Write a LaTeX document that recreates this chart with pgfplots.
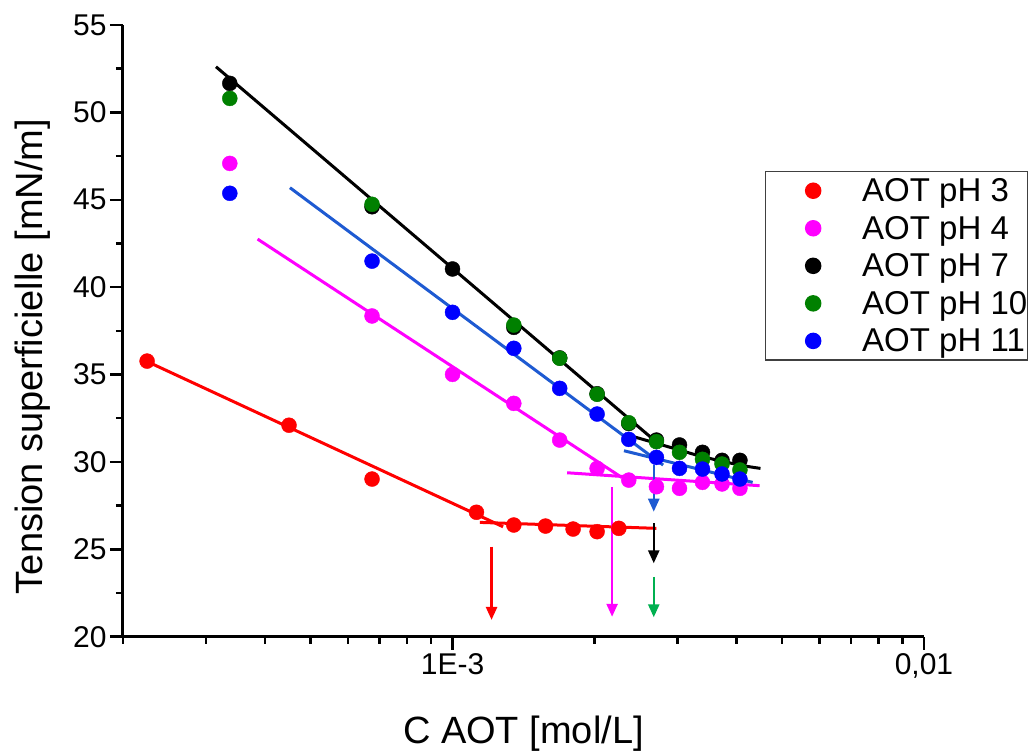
\documentclass[border=0pt]{standalone}
\usepackage{fontspec}
\setmainfont{Liberation Sans}
\usepackage{pgfplots}
\pgfplotsset{compat=1.18}
\usetikzlibrary{arrows.meta}
\definecolor{cred}{RGB}{255,0,0}
\definecolor{cmag}{RGB}{255,0,255}
\definecolor{cgreen}{RGB}{0,128,0}
\definecolor{cblue}{RGB}{0,0,255}
\definecolor{cblueline}{RGB}{30,90,210}
\definecolor{cgreenarrow}{RGB}{0,176,80}
\begin{document}
\begin{tikzpicture}
\begin{axis}[
  name=ax,
  scale only axis,
  width=801pt, height=611.7pt,
  xmode=log,
  xmin=2e-4, xmax=1e-2,
  ymin=20, ymax=55,
  axis x line*=bottom, axis y line*=left,
  axis line style={-, line width=3pt},
  every outer x axis line/.append style={line width=3pt},
  every outer y axis line/.append style={line width=3pt},
  xtick pos=left, ytick pos=left,
  tick align=outside,
  major tick length=13pt, minor tick length=7pt,
  every tick/.style={black, line width=2.5pt},
  xtick={1e-3,1e-2}, xticklabels={1E-3,{0,01}},
  minor xtick={2e-4,3e-4,4e-4,5e-4,6e-4,7e-4,8e-4,9e-4,2e-3,3e-3,4e-3,5e-3,6e-3,7e-3,8e-3,9e-3},
  ytick={20,25,30,35,40,45,50,55},
  yticklabels={20,25,30,35,40,45,50,55},
  minor ytick={22.5,27.5,32.5,37.5,42.5,47.5,52.5},
  ticklabel style={font=\fontsize{30}{30}\selectfont},
  xlabel={C AOT [mol/L]},
  ylabel={Tension superficielle [mN/m]},
  every axis x label/.style={at={(axis description cs:0.5,-0.1743)}, anchor=base, font=\fontsize{38}{38}\selectfont},
  every axis y label/.style={at={(axis description cs:-0.1002,0.458)}, anchor=base, rotate=90, font=\fontsize{38}{38}\selectfont},
  legend style={at={(axis description cs:0.8015,0.7618)}, anchor=north west,
    draw=black!75, line width=1.5pt, inner xsep=0pt, inner ysep=7pt,
    font=\fontsize{33}{33}\selectfont, row sep=13pt,
    nodes={inner sep=0pt}, cells={anchor=west}},
  legend image code/.code={\path (0pt,0pt) (95pt,0pt); \draw[#1] plot coordinates {(46.7pt,0pt)};},
  legend cell align=left,
]
% fit lines
\addplot[cred, line width=3pt, forget plot] coordinates {(2.24e-4,35.77) (1.28e-3,26.29)};
\addplot[cred, line width=3pt, forget plot] coordinates {(1.143e-3,26.54) (2.707e-3,26.20)};
\addplot[cmag, line width=3pt, forget plot] coordinates {(3.86e-4,42.75) (2.283e-3,29.12)};
\addplot[cmag, line width=3pt, forget plot] coordinates {(1.75e-3,29.38) (4.48e-3,28.64)};
\addplot[cblueline, line width=3pt, forget plot] coordinates {(4.52e-4,45.69) (2.797e-3,29.82)};
\addplot[cblueline, line width=3pt, forget plot] coordinates {(2.31e-3,30.64) (4.33e-3,28.83)};
\addplot[black, line width=3pt, forget plot] coordinates {(3.15e-4,52.61) (2.752e-3,30.97)};
\addplot[black, line width=3pt, smooth, forget plot] coordinates {(2.397e-3,31.48) (3.03e-3,30.68) (3.39e-3,30.30) (4.07e-3,29.82) (4.5e-3,29.63)};
% arrows
\addplot[cred, line width=2.5pt, -{Triangle[width=11pt,length=13pt]}, forget plot] coordinates {(1.21e-3,25.15) (1.21e-3,20.96)};
\addplot[cmag, line width=2.5pt, -{Triangle[width=11pt,length=13pt]}, forget plot] coordinates {(2.18e-3,28.55) (2.18e-3,21.14)};
\addplot[cblueline, line width=2.5pt, -{Triangle[width=11pt,length=13pt]}, forget plot] coordinates {(2.672e-3,29.82) (2.672e-3,27.15)};
\addplot[black, line width=2.5pt, -{Triangle[width=11pt,length=13pt]}, forget plot] coordinates {(2.672e-3,26.49) (2.672e-3,24.2)};
\addplot[cgreenarrow, line width=2.5pt, -{Triangle[width=11pt,length=13pt]}, forget plot] coordinates {(2.672e-3,23.43) (2.672e-3,21.11)};
% data
\addplot[only marks, mark=*, mark size=7.5pt, color=cred] coordinates {
(2.25e-4,35.77) (4.5e-4,32.1) (6.75e-4,29.02) (1.124e-3,27.12) (1.349e-3,26.39) (1.575e-3,26.33) (1.802e-3,26.16) (2.026e-3,26.01) (2.253e-3,26.20)};
\addlegendentry{AOT pH 3}
\addplot[only marks, mark=*, mark size=7.5pt, color=cmag] coordinates {
(3.37e-4,47.08) (6.75e-4,38.35) (1.0e-3,35.01) (1.349e-3,33.35) (1.688e-3,31.25) (2.026e-3,29.63) (2.365e-3,28.96) (2.707e-3,28.58) (3.03e-3,28.49) (3.39e-3,28.83) (3.73e-3,28.74) (4.07e-3,28.49)};
\addlegendentry{AOT pH 4}
\addplot[only marks, mark=*, mark size=7.5pt, color=black] coordinates {
(3.37e-4,51.66) (6.75e-4,44.6) (1.0e-3,41.04) (1.349e-3,37.7) (1.688e-3,35.95) (2.026e-3,33.9) (2.365e-3,32.2) (2.707e-3,31.25) (3.03e-3,30.97) (3.39e-3,30.55) (3.73e-3,30.09) (4.07e-3,30.09)};
\addlegendentry{AOT pH 7}
\addplot[only marks, mark=*, mark size=7.5pt, color=cgreen] coordinates {
(3.37e-4,50.80) (6.75e-4,44.74) (1.349e-3,37.83) (1.688e-3,35.93) (2.026e-3,33.87) (2.365e-3,32.24) (2.707e-3,31.16) (3.03e-3,30.55) (3.39e-3,30.15) (3.73e-3,29.88) (4.07e-3,29.54)};
\addlegendentry{AOT pH 10}
\addplot[only marks, mark=*, mark size=7.5pt, color=cblue] coordinates {
(3.37e-4,45.37) (6.75e-4,41.49) (1.0e-3,38.56) (1.349e-3,36.50) (1.688e-3,34.21) (2.026e-3,32.74) (2.365e-3,31.29) (2.707e-3,30.26) (3.03e-3,29.63) (3.39e-3,29.59) (3.73e-3,29.31) (4.07e-3,29.02)};
\addlegendentry{AOT pH 11}
\end{axis}
\pgfresetboundingbox
\path[use as bounding box] (-123pt,-114.3pt) rectangle (912pt,636.7pt);
\end{tikzpicture}
\end{document}
